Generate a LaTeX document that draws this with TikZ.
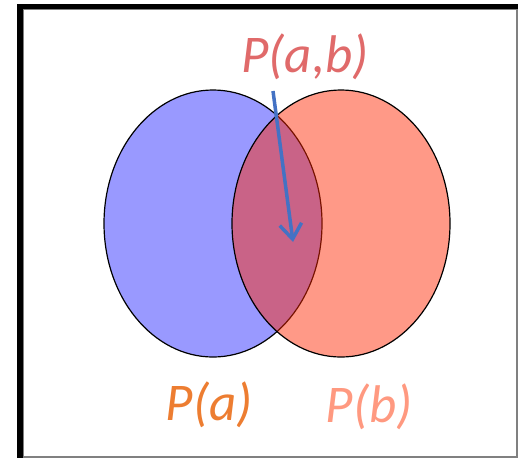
\documentclass[tikz,border=0pt]{standalone}
\usepackage{fontspec}
\setmainfont{Carlito}
\usetikzlibrary{arrows.meta,shapes.geometric}
\definecolor{blueset}{RGB}{153,153,255}
\definecolor{redset}{RGB}{255,40,0}
\definecolor{pabcol}{RGB}{224,106,106}
\definecolor{pacol}{RGB}{237,125,49}
\definecolor{pbcol}{RGB}{255,153,128}
\definecolor{arrcol}{RGB}{68,114,196}
\tikzset{
  setshape/.style={ellipse, minimum width=218pt, minimum height=267pt, inner sep=0pt, draw=black, line width=1.2pt},
  lbl/.style={font=\itshape\fontsize{53}{60}\selectfont, inner sep=0pt},
  arr/.style={draw=arrcol, line width=3.5pt, -{Straight Barb[length=15pt,width=22pt]}}
}
\begin{document}
\begin{tikzpicture}[x=1pt,y=-1pt]
\useasboundingbox (0,0) rectangle (518,458);
\fill[white] (0,0) rectangle (518,458);
\draw[gray, line width=1.5pt] (23,9) rectangle (517,457);
\fill[black] (17,4) rectangle (518,9);
\fill[black] (17,4) rectangle (23,458);
\node[setshape, fill=blueset] (A) at (213,223.5) {};
\node[setshape, fill=redset, fill opacity=0.47] (B) at (341,223.5) {};
\node[lbl, text=pabcol] (pab) at (305,57) {P(a,b)};
\node[lbl, text=pacol] (pa) at (209,405) {P(a)};
\node[lbl, text=pbcol] (pb) at (369,407) {P(b)};
\coordinate (s) at (273,91);
\coordinate (e) at (293,242);
\draw[arr] (s) -- (e);
\end{tikzpicture}
\end{document}
